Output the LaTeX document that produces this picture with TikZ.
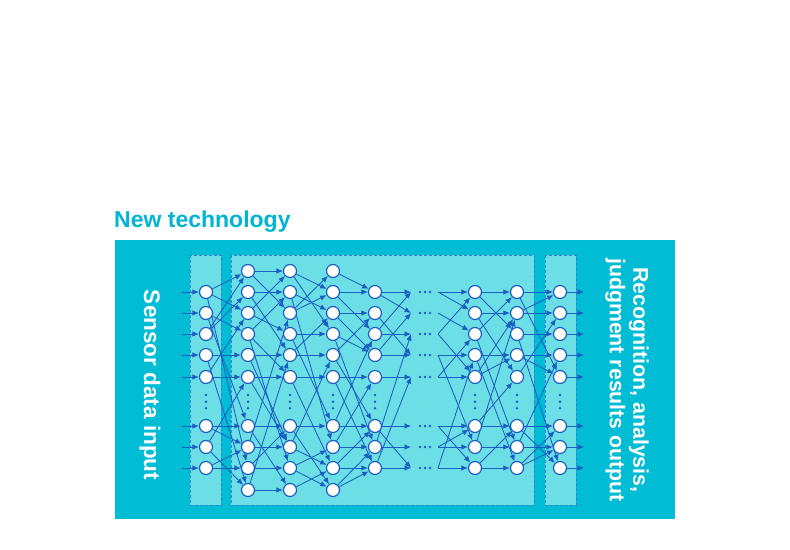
\documentclass[tikz,border=0pt]{standalone}
\usepackage{fontspec}
\setmainfont{Liberation Sans}
\usetikzlibrary{arrows.meta}
\definecolor{outercyan}{HTML}{00BCD4}
\definecolor{panelcyan}{HTML}{6CDEE6}
\definecolor{netblue}{HTML}{1A5EC2}
\definecolor{dashblue}{HTML}{3A80CC}
\definecolor{titlecyan}{HTML}{00B4D2}
\pgfdeclarelayer{bg}
\pgfdeclarelayer{edges}
\pgfsetlayers{bg,edges,main}
\tikzset{
  neuron/.style={circle,draw=netblue,fill=white,line width=1.2pt,minimum size=13pt,inner sep=0pt},
  conn/.style={draw=netblue,line width=0.85pt,-{Latex[length=6.5pt,width=5.5pt]}},
  panel/.style={fill=panelcyan,draw=dashblue,dash pattern=on 3pt off 2pt,line width=0.9pt},
  vdot/.style={circle,fill=netblue,inner sep=0pt,minimum size=2.8pt},
  sidelabel/.style={text=white,font=\bfseries\fontsize{22.5}{24}\selectfont,rotate=-90,align=center,inner sep=0pt},
}
\begin{document}
\begin{tikzpicture}[x=1pt,y=-1pt]
\useasboundingbox (0,0) rectangle (790,549);
% title
\node[anchor=base west,inner sep=0pt,text=titlecyan,font=\bfseries\fontsize{23}{25}\selectfont] (title) at (114,227) {New technology};
% panels
\begin{pgfonlayer}{bg}
  \fill[outercyan] (115,240) rectangle (675,519);
  \draw[panel] (190,255) rectangle (221,505);
  \draw[panel] (231,255) rectangle (534,505);
  \draw[panel] (545,255) rectangle (576,505);
\end{pgfonlayer}
% labels
\node[sidelabel] (inlabel) at (150,385) {Sensor data input};
\node[sidelabel,font=\bfseries\fontsize{21.3}{23.5}\selectfont] (outlabel) at (627,380) {Recognition, analysis,\\judgment results output};
% neurons
\foreach \L/\X in {0/206,1/248,2/290,3/333,4/375,5/475,6/517,7/560}{
  \foreach \k/\Y in {0/271,1/292,2/313,3/334,4/355,5/377,6/426,7/447,8/468,9/490}{
    \pgfmathtruncatemacro\full{or(and(\L>=1,\L<=3),and(\k>=1,\k<=8))}
    \ifnum\full=1 \node[neuron] (n\L-\k) at (\X,\Y) {};\fi
  }
  \foreach \i/\dy in {1/395,2/401.7,3/408.3}
    \node[vdot] (vd\L-\i) at (\X,\dy) {};
}
% coordinates for input/output arrows and the gap
\foreach \k/\Y in {1/292,2/313,3/334,4/355,5/377,6/426,7/447,8/468}{
  \coordinate (in\k) at (182,\Y);
  \coordinate (out\k) at (584,\Y);
  \coordinate (tip\k) at (411,\Y);
  \coordinate (st\k) at (438,\Y);
  \foreach \i/\dx in {1/420,2/425,3/430}
    \node[vdot] (hd\k-\i) at (\dx,\Y) {};
}
\begin{pgfonlayer}{edges}
  \foreach \k in {1,...,8}{
    \draw[conn] (in\k) -- (n0-\k);
    \draw[conn] (n7-\k) -- (out\k);
  }
  % input -> L1
  \foreach \s/\t in {1/0,1/2,1/8,2/3,2/6,3/0,3/1,4/4,4/9,5/5,5/2,6/6,6/7,7/9,7/5,8/7,8/8}
    \draw[conn] (n0-\s) -- (n1-\t);
  % L1 -> L2
  \foreach \s/\t in {0/0,0/2,1/1,1/4,2/0,2/3,3/1,3/5,3/8,4/4,4/7,5/5,5/7,6/6,6/9,7/2,7/7,8/8,8/6,9/9,9/4}
    \draw[conn] (n1-\s) -- (n2-\t);
  % L2 -> L3
  \foreach \s/\t in {0/1,0/3,1/2,1/7,2/0,2/1,3/3,3/6,4/2,4/4,5/5,5/8,6/6,6/9,7/4,7/8,8/7,8/9,9/8}
    \draw[conn] (n2-\s) -- (n3-\t);
  % L3 -> L4
  \foreach \s/\t in {0/1,1/1,1/3,2/2,2/4,3/4,3/7,4/2,4/6,5/5,5/8,6/6,6/3,7/7,7/5,8/8,8/6,9/8,9/7}
    \draw[conn] (n3-\s) -- (n4-\t);
  % L4 -> gap
  \foreach \s/\t in {1/1,1/2,2/4,3/1,3/3,4/4,4/2,5/5,6/6,6/8,7/7,7/3,8/8,8/5}
    \draw[conn] (n4-\s) -- (tip\t);
  % gap -> L5
  \foreach \s/\t in {1/2,1/1,2/3,3/1,3/5,4/4,4/7,5/5,5/3,6/6,6/8,7/7,7/6,8/8,8/4}
    \draw[conn] (st\s) -- (n5-\t);
  % L5 -> L6
  \foreach \s/\t in {1/1,1/3,2/2,2/5,3/1,3/7,4/8,4/4,5/4,5/2,6/6,6/5,7/7,7/2,8/8,8/6}
    \draw[conn] (n5-\s) -- (n6-\t);
  % L6 -> output
  \foreach \s/\t in {1/1,1/5,2/2,2/1,3/3,3/8,4/5,4/4,5/2,6/6,6/8,7/7,7/4,8/7,8/6}
    \draw[conn] (n6-\s) -- (n7-\t);
\end{pgfonlayer}
\end{tikzpicture}
\end{document}
